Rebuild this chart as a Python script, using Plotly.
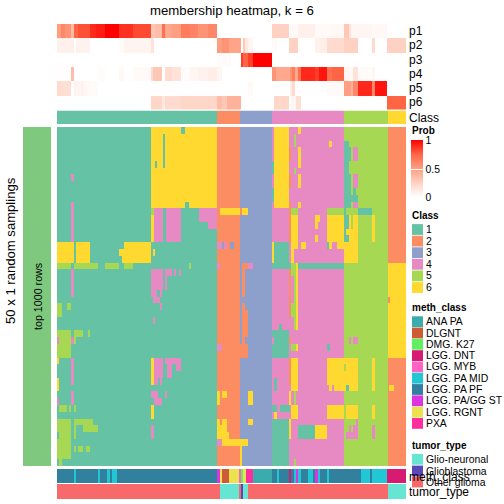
import plotly.graph_objects as go

N_UNITS = 350
# Run-length data: (value, end column); columns run 0..175
P1 = [(.5,2),(.6,4),(.55,7),(.35,8.5),(.75,10.5),(.8,16.5),(.9,19.5),(.93,24),(1,31),(.88,38),(.82,47),(.3,49),(.35,52.5),(.7,54),(.45,57.5),(.5,62),(.65,66.5),(.62,70.5),(.55,75.5),(.6,80),(0,108),(.25,116.5),(0,117),(.03,121),(.08,129.5),(.03,138),(.04,144),(.3,146.5),(.15,147.5),(.05,158),(.04,165.5),(0,175)]
P2 = [(.08,8.5),(0,9.5),(.07,16.5),(0,31),(.02,33.5),(.06,47),(.15,48.5),(0,80),(.5,82.5),(.55,86),(.47,92.5),(0,93.5),(.3,94.5),(.12,96),(.05,98.5),(0,108),(.03,110.5),(0,116.5),(.25,121),(.01,124.5),(0,129.5),(.07,132),(.1,135.5),(.2,144),(.25,151),(0,158),(.2,159.5),(0,165.5),(.25,175)]
P3 = [(0,80),(.02,86),(.03,87),(0,92.5),(.85,93.5),(.75,96),(.85,98.5),(1,108),(0,175)]
P4 = [(.01,7),(.35,8.5),(0,20.5),(.02,24),(0,31),(.04,33.5),(0,38),(.03,47),(.2,48),(.3,52.5),(0,54),(.2,57.5),(.15,62),(.02,66.5),(.05,70.5),(.07,75.5),(.1,80),(.05,82.5),(0,108),(.55,110),(.45,117),(.55,118),(.65,119.5),(.45,121),(.7,122.5),(.9,129.5),(.85,131.5),(.95,135.5),(.7,138),(.75,144),(.05,146.5),(.03,148.5),(.15,151),(.02,158),(.05,159.5),(0,175)]
P5 = [(.2,2),(.18,7),(0,8.5),(.07,9.5),(.05,12),(.08,13),(.05,14.5),(.04,16.5),(.02,20.5),(0,47),(.003,80),(0,96),(.03,98.5),(0,117),(.1,118),(.2,119.5),(0,135.5),(.03,144),(.5,147.5),(.4,148.5),(.6,151),(.9,158),(.6,159.5),(.95,165.5),(0,175)]
P6 = [(0,47),(.22,52.5),(.12,54),(.2,62),(.22,80),(.35,82.5),(.3,85),(.4,92.5),(0,109),(.22,116.5),(0,117.5),(.05,120),(.18,122.5),(0,165.5),(.75,175)]

CLASS_BAR = [(1,80),(2,92),(3,108),(4,144),(5,166),(6,175)]

MEMBERSHIP = [
 [(1,47),(6,62),(1,64),(6,80),(2,92),(3,108),(4,109),(6,116.5),(4,121),(6,122.5),(4,144),(5,166),(2,175)],
 [(1,47),(6,53),(1,54),(6,80),(2,92),(3,108),(4,109),(6,116.5),(4,119),(5,120),(4,144),(5,166),(2,175)],
 [(1,47),(6,53),(1,54),(6,80),(2,92),(3,108),(4,109),(6,116.5),(4,119),(5,120),(4,136.5),(6,138),(4,144),(1,146.5),(5,166),(2,175)],
 [(1,47),(6,53),(1,54),(6,80),(2,92),(3,108),(4,109),(6,116.5),(2,117.5),(4,121),(6,122.5),(4,144),(1,147.5),(5,148.5),(4,151),(5,166),(2,175)],
 [(1,47),(6,53),(1,54),(6,80),(2,92),(3,108),(4,109),(6,116.5),(2,117.5),(4,121),(6,122.5),(4,144),(1,147.5),(5,148.5),(4,151),(5,166),(2,175)],
 [(1,47),(6,49),(1,50),(6,53),(1,54),(6,80),(2,92),(3,108),(1,109),(6,116.5),(4,121),(6,122.5),(4,144),(1,146.5),(5,166),(2,175)],
 [(1,47),(6,80),(2,92),(3,108),(1,109),(6,116.5),(4,119),(5,120),(4,144),(1,146.5),(5,166),(2,175)],
 [(1,7),(4,8.5),(1,47),(6,80),(2,92),(3,108),(4,109),(6,116.5),(2,117.5),(4,121),(6,122.5),(4,144),(1,147.5),(5,148.5),(4,151),(5,166),(2,175)],
 [(1,47),(6,80),(2,92),(3,108),(4,109),(6,116.5),(2,117.5),(4,121),(6,122.5),(4,144),(1,147.5),(5,148.5),(4,151),(5,166),(2,175)],
 [(1,47),(6,80),(2,92),(3,108),(1,109),(6,116.5),(4,144),(1,147.5),(5,148.5),(1,150),(5,166),(2,175)],
 [(1,47),(6,80),(2,92),(3,108),(1,109),(6,116.5),(4,144),(1,151),(5,166),(2,175)],
 [(1,7),(4,8.5),(1,47),(6,64),(1,66),(6,80),(2,92),(3,108),(4,109),(6,116.5),(2,117.5),(4,121),(6,122.5),(4,144),(1,147.5),(5,148.5),(4,151),(5,166),(2,175)],
 [(1,7),(4,8.5),(1,47),(5,48.5),(4,53),(1,54.5),(4,62),(1,71),(4,80),(2,81.5),(6,92),(2,93),(6,96),(3,108),(4,116.5),(2,117.5),(5,121),(4,135.5),(5,144),(1,145),(5,151),(1,158),(5,166),(2,175)],
 [(1,7),(4,8.5),(1,47),(6,48.5),(4,53),(1,54.5),(4,62),(1,71),(4,80),(2,92),(3,108),(4,116.5),(2,117.5),(6,121),(4,129.5),(6,132),(4,135.5),(6,144),(1,146.5),(6,147.5),(5,148.5),(6,151),(5,158),(6,159.5),(5,166),(2,175)],
 [(1,7),(4,8.5),(1,47),(6,48.5),(4,53),(1,54.5),(4,62),(1,75.5),(4,80),(2,92),(3,108),(4,116.5),(2,117.5),(6,121),(4,129.5),(6,131),(4,135.5),(6,144),(1,146.5),(6,147.5),(5,148.5),(6,151),(5,158),(6,159.5),(5,166),(2,175)],
 [(1,7),(4,8.5),(1,47),(6,48.5),(4,53),(1,54.5),(4,62),(1,80),(2,92),(3,108),(4,116.5),(2,117.5),(6,121),(4,135.5),(6,144),(1,145),(6,151),(5,158),(6,159.5),(5,166),(2,175)],
 [(1,7),(4,8.5),(1,47),(6,48.5),(4,53),(1,54.5),(4,62),(1,80),(2,92),(3,108),(4,116.5),(2,117.5),(6,121),(4,129.5),(6,131),(4,135.5),(6,144),(1,146.5),(6,151),(5,158),(6,159.5),(5,166),(2,175)],
 [(6,8.5),(1,9.5),(6,16.5),(1,33.5),(6,47),(1,80),(4,82.5),(3,83.5),(4,85),(2,86.5),(3,89),(2,92),(3,108),(6,109),(1,116.5),(4,117.5),(6,121),(4,122.5),(6,125),(4,135.5),(1,136.5),(6,138),(4,140.5),(6,151),(5,166),(2,175)],
 [(6,8.5),(1,9.5),(6,16.5),(1,31),(6,47),(1,48),(6,49),(1,80),(2,92),(3,108),(6,109),(1,116.5),(4,117.5),(6,119),(4,144),(6,151),(5,166),(2,175)],
 [(6,8.5),(1,9.5),(6,16.5),(1,32.5),(6,47),(1,80),(2,92),(3,108),(6,109),(1,116.5),(4,117.5),(6,119),(4,144),(6,151),(5,166),(2,175)],
 [(5,7),(1,8.5),(5,20.5),(1,24),(5,31),(1,33.5),(5,38),(1,66),(5,67),(1,80),(4,81.5),(2,92),(3,93),(2,96),(4,98.5),(3,108),(1,117.5),(5,120),(6,121),(1,144),(5,166),(6,175)],
 [(1,7),(4,8.5),(1,47),(4,53),(1,54),(4,57.5),(1,58.5),(4,59.5),(1,61),(4,62),(1,80),(2,92),(3,93),(2,94.5),(3,108),(4,116.5),(2,117.5),(5,120),(6,121),(4,144),(5,166),(6,175)],
 [(1,7),(4,8.5),(1,47),(4,53),(1,54),(4,55),(1,80),(2,92),(3,93),(2,94.5),(3,108),(4,116.5),(2,117.5),(4,119),(5,120),(6,121),(4,144),(5,166),(6,175)],
 [(1,7),(4,8.5),(1,47),(4,53),(1,54),(4,55),(1,80),(2,92),(3,93),(2,94.5),(3,108),(4,116.5),(2,117.5),(4,119),(5,120),(6,121),(4,144),(5,166),(6,175)],
 [(1,7),(4,8.5),(1,47),(4,50),(1,51.5),(4,52.5),(1,80),(2,92),(3,93),(2,94.5),(3,108),(4,116.5),(2,117.5),(4,119),(5,120),(6,121),(4,144),(5,166),(6,175)],
 [(1,48),(4,51.5),(1,80),(2,92),(3,94.5),(3,108),(4,116.5),(2,117.5),(4,119),(5,120),(6,121),(4,144),(5,166),(2,167),(6,175)],
 [(5,2.5),(1,5),(5,7),(1,51.5),(4,52.5),(1,80),(2,92),(3,93),(2,94.5),(3,108),(4,116.5),(2,117.5),(5,120),(6,121),(4,144),(5,166),(6,175)],
 [(5,2.5),(1,80),(2,92),(3,93),(2,96),(3,108),(4,116.5),(2,117.5),(5,120),(6,121),(4,144),(5,166),(6,175)],
 [(1,48),(4,49),(1,80),(2,92),(3,93),(2,96),(3,108),(4,119),(5,120),(6,121),(4,144),(5,166),(6,175)],
 [(1,80),(2,92),(3,93),(2,96),(3,108),(4,111.5),(1,113),(4,119),(5,120),(6,121),(4,144),(5,166),(6,175)],
 [(5,7),(1,8.5),(5,13),(1,15.5),(5,16.5),(1,80),(2,92),(3,93),(2,96),(3,108),(1,116.5),(4,144),(5,166),(6,175)],
 [(4,1),(5,7),(4,8.5),(5,9.5),(1,80),(2,92),(3,93),(2,94.5),(3,108),(4,109),(1,116.5),(2,117.5),(4,144),(5,146.5),(4,147.5),(5,148.5),(4,151),(5,166),(6,175)],
 [(5,7),(1,80),(4,82.5),(2,96),(3,108),(1,116.5),(4,117.5),(5,120),(6,121),(4,135.5),(1,137),(4,144),(5,166),(6,175)],
 [(5,7),(1,80),(2,92),(2,96),(3,108),(1,116.5),(4,144),(5,166),(6,175)],
 [(6,1),(1,7),(4,8.5),(1,47),(6,48.5),(4,53),(1,54),(4,62),(1,80),(2,92),(3,108),(4,116.5),(2,117.5),(6,121),(4,135.5),(6,151),(5,158),(6,159.5),(5,166),(2,175)],
 [(1,7),(4,8.5),(1,47),(6,48.5),(4,53),(1,55),(4,57.5),(1,59.5),(4,62),(1,80),(2,92),(3,108),(4,116.5),(2,117.5),(6,121),(4,135.5),(6,144),(5,145),(6,151),(5,158),(6,159.5),(5,166),(2,175)],
 [(1,7),(4,8.5),(1,47),(6,48.5),(4,53),(1,55),(4,57.5),(1,80),(2,92),(3,108),(4,116.5),(2,117.5),(6,121),(4,135.5),(6,151),(5,158),(6,159.5),(5,166),(2,175)],
 [(6,1),(1,7),(4,8.5),(1,47),(6,48.5),(4,50.5),(1,51.5),(4,52.5),(1,80),(2,92),(3,108),(4,109),(1,110.5),(4,116.5),(2,117.5),(6,121),(4,135.5),(6,151),(5,158),(6,159.5),(5,166),(2,175)],
 [(6,1),(1,80),(2,92),(3,108),(4,109),(1,110.5),(4,117.5),(6,121),(4,136.5),(6,138),(4,139),(6,145),(1,146.5),(6,151),(5,158),(6,159.5),(5,166),(2,166.5),(6,169),(2,175)],
 [(1,7),(4,8.5),(1,47),(4,50.5),(1,54),(4,55),(1,80),(6,81.5),(2,82.5),(6,85),(2,92),(3,96),(6,98.5),(3,108),(4,116.5),(6,117.5),(4,119),(5,120),(4,144),(5,166),(2,175)],
 [(4,1),(1,7),(4,8.5),(1,48.5),(4,52.5),(1,80),(6,81.5),(2,92),(3,96),(6,98.5),(3,108),(4,116.5),(6,117.5),(4,119),(5,120),(4,144),(5,166),(2,175)],
 [(1,1),(5,5),(1,6),(5,7),(1,8.5),(5,9.5),(1,47),(6,48.5),(1,80),(2,92),(3,108),(1,110.5),(4,112),(1,117),(4,117.5),(6,121),(4,135.5),(6,144),(5,145),(6,151),(5,158),(6,159.5),(5,166),(2,175)],
 [(1,47),(6,48.5),(1,80),(2,92),(3,108),(4,109),(6,110.5),(4,117.5),(6,121),(4,135.5),(6,144),(5,145),(6,151),(5,158),(6,159.5),(5,166),(2,175)],
 [(5,7),(1,8.5),(5,18),(1,80),(6,81.5),(2,82.5),(6,85),(2,92),(3,96),(6,98.5),(3,108),(1,116.5),(6,117.5),(4,144),(5,150),(4,151),(5,166),(2,175)],
 [(5,7),(1,8.5),(5,9.5),(1,13),(5,20.5),(1,47),(4,48.5),(1,80),(6,85),(2,92),(3,108),(1,116.5),(6,117.5),(4,121),(1,129.5),(6,135.5),(4,144),(5,146.5),(4,147.5),(5,148.5),(4,151),(5,158),(4,159.5),(5,166),(2,175)],
 [(1,1),(5,7),(1,8.5),(5,9.5),(1,47),(4,48.5),(1,80),(6,86),(2,92),(3,108),(1,116.5),(6,117.5),(4,121),(1,129.5),(6,135.5),(4,144),(5,145),(4,151),(5,158),(4,159.5),(5,166),(2,175)],
 [(5,7),(1,80),(4,82.5),(6,96),(3,108),(1,116.5),(4,144),(5,166),(2,175)],
 [(5,7),(1,8.5),(5,9.5),(1,10.5),(5,13),(1,14.5),(5,16.5),(1,80),(2,92),(6,93),(3,108),(1,116.5),(4,144),(5,166),(2,175)],
 [(5,7),(1,80),(2,92),(6,93),(3,108),(1,116.5),(4,144),(5,166),(2,175)],
 [(1,1),(5,2.5),(1,80),(2,92),(6,93),(3,108),(1,116.5),(4,119),(5,120),(4,144),(5,166),(2,175)],
]

METH_CATS = ["ANA PA","DLGNT","DMG. K27","LGG. DNT","LGG. MYB","LGG. PA MID","LGG. PA PF","LGG. PA/GG ST","LGG. RGNT","PXA"]
METH_COLORS = ["#3AACAE","#CD5B36","#5FEF5F","#D81B72","#FF63C3","#22C7D6","#30809E","#DD33E3","#ECE14E","#FF2E9E"]
METH_RUNS = [(6,8.5),(5,9.5),(6,20.5),(5,21.5),(6,25),(5,26.5),(6,27.5),(5,30),(6,80),(7,81.5),(8,82.5),(1,86),(8,91.5),(4,92.5),(2,93.5),(8,95),(9,98.5),(0,108),(6,110.5),(5,111.5),(6,116.5),(3,117.5),(6,119),(5,120),(7,121),(5,122.5),(6,126),(5,128.5),(6,129.5),(7,131),(5,132),(6,135.5),(5,136.5),(6,152.5),(5,157),(6,158),(5,165.5),(3,175)]

TUMOR_CATS = ["Glio-neuronal","Glioblastoma","Other glioma"]
TUMOR_COLORS = ["#66E5D3","#5B48B8","#F8696B"]
TUMOR_RUNS = [(2,81.5),(0,91.5),(2,92.5),(1,93.5),(0,96),(2,166),(0,175)]

CLASS_LABELS = ["1","2","3","4","5","6"]
CLASS_COLORS = ["#66C2A5","#FC8D62","#8DA0CB","#E78AC3","#A6D854","#FFD92F"]
P_LABELS = ["p1","p2","p3","p4","p5","p6"]
PROB_SCALE = [[0,"#FFFFFF"],[.25,"#FFD1C2"],[.5,"#FF9E81"],[.75,"#FF6544"],[1,"#FF0000"]]
SAMPLING_COLOR = "#7FC97F"


def expand(runs):
    out, start = [], 0
    for value, end in runs:
        stop = int(round(end * 2))
        out.extend([value] * (stop - start))
        start = max(start, stop)
    return out


def discrete(colors):
    n = len(colors)
    scale = []
    for i, c in enumerate(colors):
        scale += [[i / n, c], [(i + 1) / n, c]]
    return scale


X = [i + 0.5 for i in range(N_UNITS)]
L, R = 57, 406
W = 504


def dom(a, b):
    return [a / W, b / W]


def ydom(top, bottom):
    return [1 - bottom / W, 1 - top / W]


fig = go.Figure()
layout = {}


def panel(i, z, x, scale, zmin, zmax, xd, yd, xrange, yrange, **kw):
    fig.add_trace(go.Heatmap(z=z, x=x, y=[r + 0.5 for r in range(len(z))], colorscale=scale, zmin=zmin, zmax=zmax,
                             showscale=kw.pop("showscale", False), hoverinfo="skip", xaxis=f"x{i}", yaxis=f"y{i}", **kw))
    sfx = "" if i == 1 else str(i)
    layout[f"xaxis{sfx}"] = dict(domain=dom(*xd), range=xrange, visible=False, anchor=f"y{i}", fixedrange=True)
    layout[f"yaxis{sfx}"] = dict(domain=ydom(*yd), range=yrange, visible=False, anchor=f"x{i}", fixedrange=True)


panel(1, [expand(p) for p in [P1, P2, P3, P4, P5, P6]], X, PROB_SCALE, 0, 1, (L, R), (24, 109.5), [0, N_UNITS], [6, 0],
      showscale=True,
      colorbar=dict(x=411 / W, xanchor="left", y=1 - 197.5 / W, yanchor="bottom", lenmode="pixels", len=57,
                    thickness=12, thicknessmode="pixels", outlinewidth=0, borderwidth=0, xpad=0, ypad=0,
                    tickmode="array", tickvals=[0, .5, 1], ticktext=["0", "0.5", "1"], ticks="inside", ticklen=12,
                    tickcolor="#FFFFFF", tickwidth=1, tickfont=dict(family="Liberation Sans", size=10.4, color="#000")))
panel(2, [expand(CLASS_BAR)], X, discrete(CLASS_COLORS), .5, 6.5, (L, R), (110.5, 124), [0, N_UNITS], [1, 0])
panel(3, [expand(r) for r in MEMBERSHIP], X, discrete(CLASS_COLORS), .5, 6.5, (L, R), (127, 466), [0, N_UNITS], [50, 0])
panel(4, [expand(METH_RUNS)], X, discrete(METH_COLORS), -.5, 9.5, (L, R), (469, 483), [0, N_UNITS], [1, 0])
panel(5, [expand(TUMOR_RUNS)], X, discrete(TUMOR_COLORS), -.5, 2.5, (L, R), (484, 499), [0, N_UNITS], [1, 0])
panel(6, [[1]], [0.5], [[0, SAMPLING_COLOR], [1, SAMPLING_COLOR]], 0, 2, (23, 51), (127, 466), [0, 1], [1, 0])

FONT = "Liberation Sans"
ann = []


def text(s, x, y, size, bold=False, anchor="left", angle=0):
    ann.append(dict(text=f"<b>{s}</b>" if bold else s, x=x / W, y=1 - y / W, xref="paper", yref="paper",
                    xanchor=anchor, yanchor="middle", showarrow=False, textangle=angle,
                    font=dict(family=FONT, size=size, color="#000"), borderpad=0, borderwidth=0))


text("membership heatmap, k = 6", 231.6, 10.5, 13.2, anchor="center")
text("50 x 1 random samplings", 10, 251, 13.1, anchor="center", angle=-90)
text("top 1000 rows", 38, 297, 10.7, anchor="center", angle=-90)
for i, lab in enumerate(P_LABELS):
    text(lab, 409, 31 + i * 14.25, 12)
text("Class", 409, 117.5, 12)
text("meth_class", 409, 476.5, 12)
text("tumor_type", 409, 492, 12)

text("Prob", 412, 131, 10, bold=True)
text("Class", 412, 215, 10, bold=True)
text("meth_class", 412, 307.5, 10, bold=True)
text("tumor_type", 412, 445, 10, bold=True)

shapes = []


def swatch(y, color):
    shapes.append(dict(type="rect", xref="paper", yref="paper", x0=412 / W, x1=423 / W, y0=1 - (y - 5.4) / W,
                       y1=1 - (y + 5.4) / W, fillcolor=color, line_width=0, layer="above"))


for i, (lab, c) in enumerate(zip(CLASS_LABELS, CLASS_COLORS)):
    swatch(229.5 + i * 11.6, c)
    text(lab, 426, 229.5 + i * 11.6, 10.4)
for i, (lab, c) in enumerate(zip(METH_CATS, METH_COLORS)):
    swatch(321.7 + i * 11.3, c)
    text(lab, 426, 321.7 + i * 11.3, 10.4)
for (lab, c, y) in zip(TUMOR_CATS, TUMOR_COLORS, [459.3, 471, 482]):
    swatch(y, c)
    text(lab, 426, y, 10.4)

fig.update_layout(width=W, height=W, margin=dict(l=0, r=0, t=0, b=0, pad=0), paper_bgcolor="white",
                  plot_bgcolor="white", showlegend=False, annotations=ann, shapes=shapes, **layout)
fig.write_html("out.html", post_script="document.body.style.margin='0';", config={"displayModeBar": False})
